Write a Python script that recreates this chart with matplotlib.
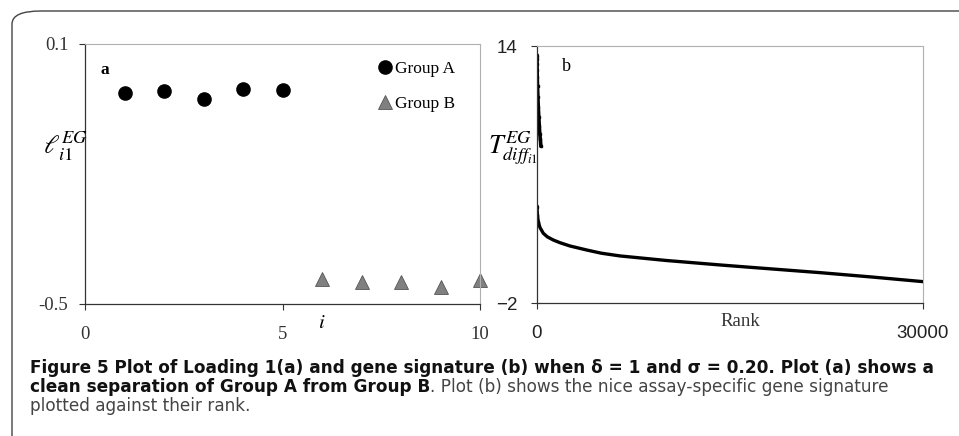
import matplotlib.pyplot as plt
from matplotlib.patches import FancyBboxPatch

# Panel (a): loading 1 per sample
group_a_i = [1, 2, 3, 4, 5]
group_a_load = [-0.013, -0.008, -0.026, -0.004, -0.007]
group_b_i = [6, 7, 8, 9, 10]
group_b_load = [-0.442, -0.449, -0.449, -0.460, -0.445]

# Panel (b): gene signature vs rank
top_rank = [1, 3, 6, 10, 20, 40, 70, 100, 140, 180, 220, 260, 300]
top_val = [13.4, 13.2, 12.9, 12.5, 12.1, 11.5, 10.8, 10.2, 9.6, 9.0, 8.5, 8.2, 7.8]
main_rank = [1, 30, 100, 230, 490, 800, 1270, 1800, 2560, 3860, 5000, 6450, 10000,
             14200, 16300, 22000, 26000, 30000]
main_val = [4.0, 3.5, 3.06, 2.7, 2.34, 2.12, 1.92, 1.75, 1.55, 1.30, 1.1, 0.93, 0.65,
            0.37, 0.24, -0.11, -0.38, -0.67]

caption_bold1 = "Figure 5 Plot of Loading 1(a) and gene signature (b) when \u03b4 = 1 and \u03c3 = 0.20. Plot (a) shows a"
caption_bold2 = "clean separation of Group A from Group B"
caption_reg2 = ". Plot (b) shows the nice assay-specific gene signature"
caption_reg3 = "plotted against their rank."

plt.rcParams['mathtext.fontset'] = 'stix'
serif = 'Liberation Serif'
sans = 'Liberation Sans'

fig = plt.figure(figsize=(9.59, 4.36), dpi=100)
W, H = 959, 436

def px_axes(l, t, r, b):
    return fig.add_axes([l / W, (H - b) / H, (r - l) / W, (b - t) / H])

def style_axes(ax):
    for s in ['top', 'right']:
        ax.spines[s].set_color('#b0b0b0')
        ax.spines[s].set_linewidth(0.8)
    for s in ['left', 'bottom']:
        ax.spines[s].set_color('#333333')
        ax.spines[s].set_linewidth(0.9)
    ax.tick_params(axis='both', direction='out', length=4, width=0.8, color='#333333')
    ax.tick_params(axis='x', pad=12)
    ax.tick_params(axis='y', pad=8)

# border with rounded top-left corner
border = FancyBboxPatch((12 / W, -0.1), 1.2, (H - 11) / H + 0.1,
                        boxstyle="round,pad=0,rounding_size=0.03",
                        transform=fig.transFigure, fill=False,
                        edgecolor='#444444', linewidth=1.0)
fig.patches.append(border)

# ---- panel a
ax1 = px_axes(85, 44, 480, 304)
ax1.plot(group_a_i, group_a_load, 'o', color='black', markersize=9.5, label='Group A')
ax1.plot(group_b_i, group_b_load, '^', color='#808080', markeredgecolor='#555555',
         markeredgewidth=0.6, markersize=10.5, label='Group B', clip_on=False)
ax1.set_xlim(0, 10)
ax1.set_ylim(-0.5, 0.1)
ax1.set_xticks([0, 5, 10])
ax1.set_yticks([0.1, -0.5])
ax1.set_yticklabels(['0.1', '-0.5'])
style_axes(ax1)
for lab in ax1.get_xticklabels() + ax1.get_yticklabels():
    lab.set_fontfamily(serif)
    lab.set_fontsize(13.5)
    lab.set_color('#333333')
ax1.text(0.04, 0.9, 'a', transform=ax1.transAxes, fontfamily=serif, fontweight='bold',
         fontsize=12.5, ha='left', va='center')
leg = ax1.legend(loc='upper left', bbox_to_anchor=(0.725, 0.97), frameon=False,
                 handlelength=0.6, handletextpad=0.25, labelspacing=1.1, borderpad=0,
                 prop={'family': serif, 'size': 12.5}, numpoints=1)
fig.text(65 / W, 1 - 146 / H, r'$\ell_{i1}^{EG}$', fontsize=19, ha='center', va='center')
fig.text(322 / W, 1 - 322 / H, r'$i$', fontsize=15, ha='center', va='center')

# ---- panel b
ax2 = px_axes(537, 46, 923, 303)
ax2.plot(top_rank, top_val, '-', color='black', linewidth=2.6,
         marker='s', markersize=1.8)
ax2.plot(main_rank, main_val, '-', color='black', linewidth=2.4)
ax2.plot(main_rank[:3], main_val[:3], 's', color='black', markersize=1.8)
ax2.set_xlim(0, 30000)
ax2.set_ylim(-2, 14)
ax2.set_xticks([0, 30000])
ax2.set_yticks([14, -2])
style_axes(ax2)
ax2.tick_params(axis='y', pad=10)
for lab in ax2.get_xticklabels() + ax2.get_yticklabels():
    lab.set_fontfamily(sans)
    lab.set_fontsize(13.5)
    lab.set_color('#222222')
ax2.text(0.065, 0.922, 'b', transform=ax2.transAxes, fontfamily=serif,
         fontsize=13, ha='left', va='center')
fig.text(513 / W, 1 - 148 / H, r'$T_{diff_{i1}}^{EG}$', fontsize=19, ha='center', va='center')
fig.text(740 / W, 1 - 321 / H, 'Rank', fontfamily=serif, fontsize=13.5,
         ha='center', va='center', color='#333333')

# ---- caption
cap_font = 'DejaVu Sans'
cap_size = 12.2
x0 = 30 / W
fig.text(x0, 1 - 373 / H, caption_bold1, fontfamily=cap_font, fontweight='bold',
         fontsize=cap_size, ha='left', va='baseline', color='#111111')
t2 = fig.text(x0, 1 - 392 / H, caption_bold2, fontfamily=cap_font, fontweight='bold',
              fontsize=cap_size, ha='left', va='baseline', color='#111111')
ax1.annotate(caption_reg2, xy=(1, 0), xycoords=t2, xytext=(0, 0), textcoords='offset points',
             fontfamily=cap_font, fontsize=cap_size, ha='left', va='bottom',
             color='#444444', annotation_clip=False)
fig.text(x0, 1 - 411 / H, caption_reg3, fontfamily=cap_font, fontsize=cap_size,
         ha='left', va='baseline', color='#444444')

fig.savefig('out.png', dpi=100)
